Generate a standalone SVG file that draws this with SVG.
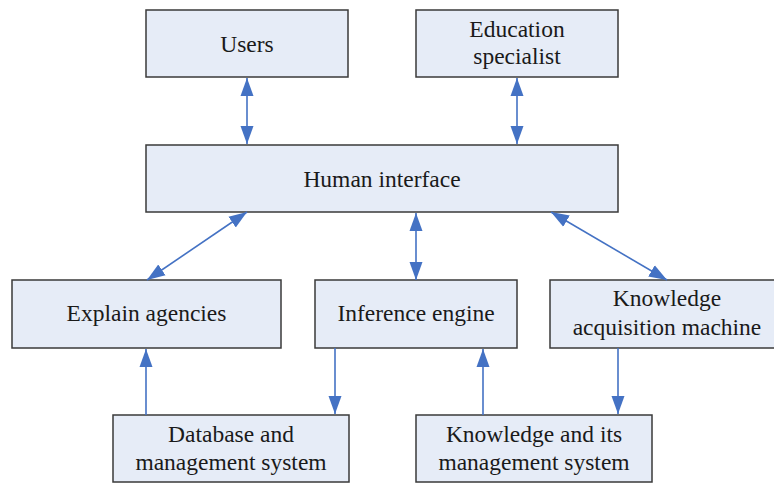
<svg xmlns="http://www.w3.org/2000/svg" width="774" height="483" viewBox="0 0 774 483">
<style>
.box{fill:#E6ECF7;stroke:#3a3a3a;stroke-width:1.5}
.t{font-size:23.5px;fill:#1a1a1a;text-anchor:middle}
.c{stroke:#4472C4;stroke-width:1.6;fill:none}
</style>
<defs>
<marker id="ah" markerUnits="userSpaceOnUse" markerWidth="18" markerHeight="14" refX="18" refY="6.5" orient="auto-start-reverse" viewBox="0 0 18 13">
<path d="M0,0 L18,6.5 L0,13 z" fill="#4472C4"/>
</marker>
</defs>
<rect width="774" height="483" fill="#fff"/>
<g font-family="Liberation Serif, DejaVu Serif, serif">
<g id="users"><rect class="box" x="146" y="10" width="202" height="67"/><text class="t" x="247" y="51.5">Users</text></g>
<g id="education"><rect class="box" x="416" y="10" width="202" height="67"/><text class="t" x="517" y="36.5">Education</text><text class="t" x="517" y="63.5">specialist</text></g>
<g id="human"><rect class="box" x="146" y="145" width="472" height="67"/><text class="t" x="382" y="186.5">Human interface</text></g>
<g id="explain"><rect class="box" x="12" y="280" width="269" height="68"/><text class="t" x="146.5" y="320.5">Explain agencies</text></g>
<g id="inference"><rect class="box" x="315" y="280" width="202" height="68"/><text class="t" x="416" y="320.5">Inference engine</text></g>
<g id="kam"><rect class="box" x="550" y="280" width="230" height="68"/><text class="t" x="667" y="306">Knowledge</text><text class="t" x="667" y="335">acquisition machine</text></g>
<g id="database"><rect class="box" x="113" y="415" width="236" height="67"/><text class="t" x="231" y="441.5">Database and</text><text class="t" x="231" y="470">management system</text></g>
<g id="kms"><rect class="box" x="416" y="415" width="236" height="67"/><text class="t" x="534" y="441.5">Knowledge and its</text><text class="t" x="534" y="470">management system</text></g>
</g>
<g id="connectors">
<line class="c" x1="247" y1="78" x2="247" y2="144" marker-start="url(#ah)" marker-end="url(#ah)"/>
<line class="c" x1="517" y1="78" x2="517" y2="144" marker-start="url(#ah)" marker-end="url(#ah)"/>
<line class="c" x1="247" y1="212" x2="147" y2="280" marker-start="url(#ah)" marker-end="url(#ah)"/>
<line class="c" x1="416" y1="213" x2="416" y2="280" marker-start="url(#ah)" marker-end="url(#ah)"/>
<line class="c" x1="551" y1="212" x2="667" y2="280" marker-start="url(#ah)" marker-end="url(#ah)"/>
<line class="c" x1="146" y1="415" x2="146" y2="349" marker-end="url(#ah)"/>
<line class="c" x1="335" y1="348" x2="335" y2="414" marker-end="url(#ah)"/>
<line class="c" x1="483" y1="415" x2="483" y2="349" marker-end="url(#ah)"/>
<line class="c" x1="618" y1="348" x2="618" y2="414" marker-end="url(#ah)"/>
</g>
</svg>
